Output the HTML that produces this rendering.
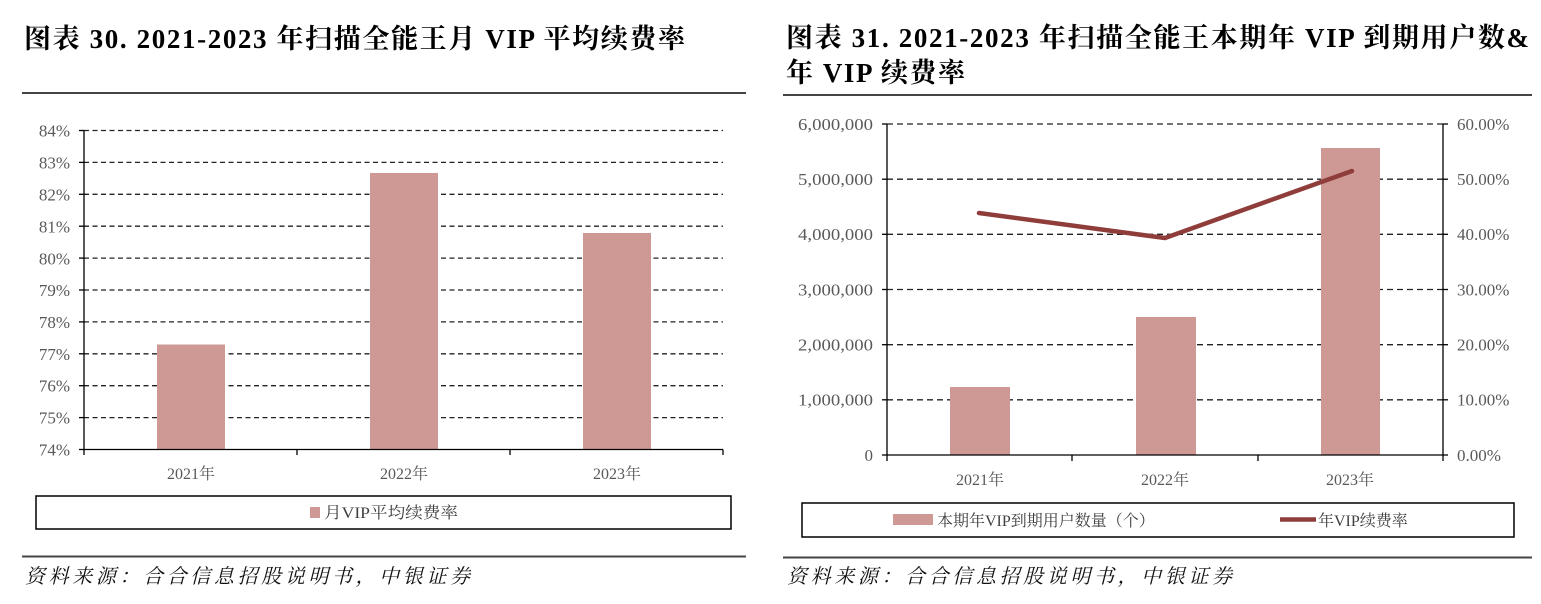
<!DOCTYPE html>
<html><head><meta charset="utf-8"><style>
html,body{margin:0;padding:0;background:#fff;}
svg{display:block;}
.t{font-family:"Liberation Serif","Noto Serif CJK SC",serif;font-weight:bold;font-size:27px;fill:#000;}
.ax{font-family:"Liberation Serif","Noto Serif CJK SC",serif;font-size:17px;fill:#595959;}
.xl{font-family:"Liberation Serif","Noto Serif CJK SC",serif;font-size:16px;fill:#595959;}
.lg{font-family:"Liberation Serif","Noto Serif CJK SC",serif;font-size:16px;fill:#404040;}
.src{font-family:"Liberation Serif","Noto Serif CJK SC",serif;font-size:20px;font-style:italic;fill:#111;}
</style></head><body>
<svg width="1541" height="604" viewBox="0 0 1541 604" xmlns="http://www.w3.org/2000/svg">
<rect width="1541" height="604" fill="#fff"/>
<!-- LEFT CHART -->
<text class="t" x="24" y="48" textLength="661" lengthAdjust="spacing">图表 30. 2021-2023 年扫描全能王月 VIP 平均续费率</text>
<line x1="22" y1="93" x2="746" y2="93" stroke="#444" stroke-width="2"/>
<g stroke="#222" stroke-width="1.3" stroke-dasharray="5,3.5">
<line x1="84" y1="130.5" x2="723" y2="130.5"/>
<line x1="84" y1="162.4" x2="723" y2="162.4"/>
<line x1="84" y1="194.3" x2="723" y2="194.3"/>
<line x1="84" y1="226.2" x2="723" y2="226.2"/>
<line x1="84" y1="258.1" x2="723" y2="258.1"/>
<line x1="84" y1="290" x2="723" y2="290"/>
<line x1="84" y1="321.9" x2="723" y2="321.9"/>
<line x1="84" y1="353.8" x2="723" y2="353.8"/>
<line x1="84" y1="385.7" x2="723" y2="385.7"/>
<line x1="84" y1="417.6" x2="723" y2="417.6"/>
</g>
<g fill="#CE9995">
<rect x="157" y="344.5" width="68" height="105"/>
<rect x="370" y="173" width="68" height="276.5"/>
<rect x="583" y="233" width="68" height="216.5"/>
</g>
<g stroke="#000" stroke-width="1.3">
<line x1="84" y1="130.5" x2="84" y2="449.5"/>
<line x1="84" y1="449.5" x2="723" y2="449.5"/>
<line x1="79" y1="130.5" x2="84" y2="130.5"/>
<line x1="79" y1="162.4" x2="84" y2="162.4"/>
<line x1="79" y1="194.3" x2="84" y2="194.3"/>
<line x1="79" y1="226.2" x2="84" y2="226.2"/>
<line x1="79" y1="258.1" x2="84" y2="258.1"/>
<line x1="79" y1="290" x2="84" y2="290"/>
<line x1="79" y1="321.9" x2="84" y2="321.9"/>
<line x1="79" y1="353.8" x2="84" y2="353.8"/>
<line x1="79" y1="385.7" x2="84" y2="385.7"/>
<line x1="79" y1="417.6" x2="84" y2="417.6"/>
<line x1="79" y1="449.5" x2="84" y2="449.5"/>
<line x1="84" y1="449.5" x2="84" y2="455"/>
<line x1="297" y1="449.5" x2="297" y2="455"/>
<line x1="510" y1="449.5" x2="510" y2="455"/>
<line x1="723" y1="449.5" x2="723" y2="455"/>
</g>
<g class="ax" text-anchor="end">
<text x="70" y="136.5">84%</text>
<text x="70" y="168.5">83%</text>
<text x="70" y="200.5">82%</text>
<text x="70" y="232.5">81%</text>
<text x="70" y="264.5">80%</text>
<text x="70" y="296">79%</text>
<text x="70" y="328">78%</text>
<text x="70" y="360">77%</text>
<text x="70" y="391.5">76%</text>
<text x="70" y="423.5">75%</text>
<text x="70" y="455.5">74%</text>
</g>
<g class="xl" text-anchor="middle">
<text x="191" y="479">2021年</text>
<text x="404" y="479">2022年</text>
<text x="617" y="479">2023年</text>
</g>
<rect x="36" y="496" width="695" height="33" fill="none" stroke="#000" stroke-width="1.5"/>
<rect x="310" y="507" width="10" height="11" fill="#CE9995"/>
<text class="lg" x="324" y="518" textLength="134" lengthAdjust="spacingAndGlyphs">月VIP平均续费率</text>
<line x1="22" y1="556.5" x2="746" y2="556.5" stroke="#444" stroke-width="2"/>
<text class="src" x="25" y="583" textLength="445" lengthAdjust="spacing">资料来源：合合信息招股说明书，中银证券</text>

<!-- RIGHT CHART -->
<text class="t" x="786" y="47" textLength="743" lengthAdjust="spacing">图表 31. 2021-2023 年扫描全能王本期年 VIP 到期用户数&amp;</text>
<text class="t" x="786" y="82" textLength="179" lengthAdjust="spacing">年 VIP 续费率</text>
<line x1="783" y1="95" x2="1532" y2="95" stroke="#444" stroke-width="2"/>
<g stroke="#222" stroke-width="1.3" stroke-dasharray="6,4">
<line x1="887" y1="124" x2="1443" y2="124"/>
<line x1="887" y1="179.2" x2="1443" y2="179.2"/>
<line x1="887" y1="234.3" x2="1443" y2="234.3"/>
<line x1="887" y1="289.5" x2="1443" y2="289.5"/>
<line x1="887" y1="344.7" x2="1443" y2="344.7"/>
<line x1="887" y1="399.8" x2="1443" y2="399.8"/>
</g>
<g fill="#CE9995">
<rect x="950" y="387" width="60" height="68"/>
<rect x="1136" y="317" width="60" height="138"/>
<rect x="1321" y="148" width="59" height="307"/>
</g>
<polyline points="979,213 1165,238 1352,171" fill="none" stroke="#8E3D3A" stroke-width="4.5" stroke-linecap="round" stroke-linejoin="round"/>
<g stroke="#000" stroke-width="1.3">
<line x1="887" y1="124" x2="887" y2="455"/>
<line x1="1443" y1="124" x2="1443" y2="455"/>
<line x1="887" y1="455" x2="1443" y2="455"/>
<line x1="882" y1="124" x2="887" y2="124"/>
<line x1="882" y1="179.2" x2="887" y2="179.2"/>
<line x1="882" y1="234.3" x2="887" y2="234.3"/>
<line x1="882" y1="289.5" x2="887" y2="289.5"/>
<line x1="882" y1="344.7" x2="887" y2="344.7"/>
<line x1="882" y1="399.8" x2="887" y2="399.8"/>
<line x1="882" y1="455" x2="887" y2="455"/>
<line x1="1443" y1="124" x2="1448" y2="124"/>
<line x1="1443" y1="179.2" x2="1448" y2="179.2"/>
<line x1="1443" y1="234.3" x2="1448" y2="234.3"/>
<line x1="1443" y1="289.5" x2="1448" y2="289.5"/>
<line x1="1443" y1="344.7" x2="1448" y2="344.7"/>
<line x1="1443" y1="399.8" x2="1448" y2="399.8"/>
<line x1="1443" y1="455" x2="1448" y2="455"/>
<line x1="887" y1="455" x2="887" y2="461"/>
<line x1="1072" y1="455" x2="1072" y2="461"/>
<line x1="1258" y1="455" x2="1258" y2="461"/>
<line x1="1443" y1="455" x2="1443" y2="461"/>
</g>
<g class="ax" text-anchor="end">
<text x="873" y="130" textLength="75" lengthAdjust="spacingAndGlyphs">6,000,000</text>
<text x="873" y="185" textLength="75" lengthAdjust="spacingAndGlyphs">5,000,000</text>
<text x="873" y="240" textLength="75" lengthAdjust="spacingAndGlyphs">4,000,000</text>
<text x="873" y="295.5" textLength="75" lengthAdjust="spacingAndGlyphs">3,000,000</text>
<text x="873" y="350.5" textLength="75" lengthAdjust="spacingAndGlyphs">2,000,000</text>
<text x="873" y="405.5" textLength="75" lengthAdjust="spacingAndGlyphs">1,000,000</text>
<text x="873" y="461">0</text>
</g>
<g class="ax" text-anchor="start">
<text x="1457" y="130">60.00%</text>
<text x="1457" y="185">50.00%</text>
<text x="1457" y="240">40.00%</text>
<text x="1457" y="295.5">30.00%</text>
<text x="1457" y="350.5">20.00%</text>
<text x="1457" y="405.5">10.00%</text>
<text x="1457" y="461">0.00%</text>
</g>
<g class="xl" text-anchor="middle">
<text x="980" y="485">2021年</text>
<text x="1165" y="485">2022年</text>
<text x="1350" y="485">2023年</text>
</g>
<rect x="802" y="503" width="712" height="34" fill="none" stroke="#000" stroke-width="1.5"/>
<rect x="893" y="514" width="40" height="11" fill="#CE9995"/>
<text class="lg" x="937" y="526">本期年VIP到期用户数量（个）</text>
<line x1="1280" y1="519.5" x2="1316" y2="519.5" stroke="#8E3D3A" stroke-width="4.5"/>
<text class="lg" x="1318" y="526">年VIP续费率</text>
<line x1="783" y1="557.5" x2="1532" y2="557.5" stroke="#444" stroke-width="2"/>
<text class="src" x="787" y="583" textLength="445" lengthAdjust="spacing">资料来源：合合信息招股说明书，中银证券</text>
</svg>
</body></html>
